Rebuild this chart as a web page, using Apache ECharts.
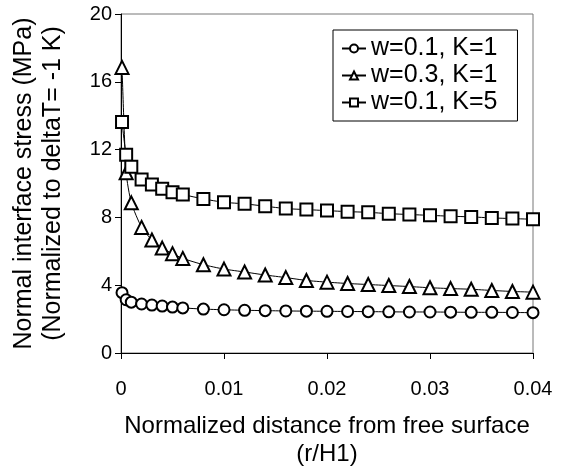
<!DOCTYPE html>
<html>
<head>
<meta charset="utf-8">
<script src="https://cdn.jsdelivr.net/npm/echarts@6/dist/echarts.min.js"></script>
<style>
html,body{margin:0;padding:0;background:#fff;}
#chart{width:568px;height:468px;}
</style>
</head>
<body>
<div id="chart"></div>
<script>
var xValues = [0.0001, 0.0005, 0.001, 0.002, 0.003, 0.004, 0.005, 0.006, 0.008, 0.010, 0.012, 0.014, 0.016, 0.018, 0.020, 0.022, 0.024, 0.026, 0.028, 0.030, 0.032, 0.034, 0.036, 0.038, 0.040];
var seriesNames = ['w=0.1, K=1', 'w=0.3, K=1', 'w=0.1, K=5'];
var circleVals = [3.56, 3.14, 3.0, 2.89, 2.83, 2.77, 2.71, 2.66, 2.59, 2.55, 2.52, 2.50, 2.48, 2.47, 2.46, 2.45, 2.44, 2.43, 2.42, 2.42, 2.41, 2.40, 2.40, 2.39, 2.38];
var triangleVals = [16.85, 10.63, 8.86, 7.41, 6.67, 6.19, 5.86, 5.58, 5.21, 4.95, 4.78, 4.60, 4.45, 4.28, 4.18, 4.10, 4.04, 3.98, 3.92, 3.85, 3.80, 3.76, 3.69, 3.63, 3.59];
var squareVals = [13.63, 11.70, 10.99, 10.24, 9.94, 9.69, 9.49, 9.35, 9.09, 8.89, 8.80, 8.66, 8.52, 8.46, 8.40, 8.34, 8.30, 8.22, 8.17, 8.12, 8.07, 8.03, 7.97, 7.93, 7.89];
var xTicks = ['0', '0.01', '0.02', '0.03', '0.04'];
var yTicks = ['0', '4', '8', '12', '16', '20'];

function pairs(vals) {
  return xValues.map(function (x, i) { return [x, vals[i]]; });
}
var FONT = 'Liberation Sans, Arial, sans-serif';
function mkSeries(name, vals, symbol, size) {
  return {
    name: name,
    type: 'line',
    data: pairs(vals),
    symbol: symbol,
    symbolSize: size,
    smooth: 0.2,
    showAllSymbol: true,
    lineStyle: { color: '#000', width: 1 },
    itemStyle: { color: '#fff', borderColor: '#000', borderWidth: 2 },
    emphasis: { disabled: true },
    z: 3
  };
}

var chart = echarts.init(document.getElementById('chart'), null, { renderer: 'canvas' });
chart.setOption({
  animation: false,
  backgroundColor: '#fff',
  grid: { left: 121, right: 35, top: 14, bottom: 115, containLabel: false, outerBoundsMode: 'none',
    show: true, borderColor: '#777', borderWidth: 1, backgroundColor: 'transparent' },
  legend: {
    show: true,
    left: 333, top: 30,
    orient: 'vertical',
    data: seriesNames,
    backgroundColor: '#fff',
    borderColor: '#000',
    borderWidth: 1,
    padding: [6, 20, 6, 8],
    itemWidth: 24,
    itemHeight: 10,
    itemGap: 2,
    textStyle: { fontFamily: FONT, fontSize: 25, color: '#000', lineHeight: 24 }
  },
  xAxis: {
    type: 'value',
    min: 0, max: 0.04, interval: 0.01,
    name: 'Normalized distance from free surface\n(r/H1)',
    nameLocation: 'middle',
    nameGap: 59,
    nameTextStyle: { fontFamily: FONT, fontSize: 24, color: '#000', lineHeight: 28, verticalAlign: 'top' },
    axisLine: { show: true, onZero: false, lineStyle: { color: '#000', width: 1 } },
    axisTick: { show: true, inside: false, length: 6, lineStyle: { color: '#000' } },
    axisLabel: { fontFamily: FONT, fontSize: 20, color: '#000', margin: 26,
      formatter: function (v) { var i = Math.round(v / 0.01); return xTicks[i] !== undefined ? xTicks[i] : ''; } },
    splitLine: { show: false }
  },
  yAxis: {
    type: 'value',
    min: 0, max: 20, interval: 4,
    name: 'Normal interface stress (MPa)\n(Normalized to deltaT= -1 K)',
    nameLocation: 'middle',
    nameGap: 53,
    nameRotate: 90,
    nameTextStyle: { fontFamily: FONT, fontSize: 25, color: '#000', lineHeight: 29 },
    axisLine: { show: true, onZero: false, lineStyle: { color: '#000', width: 1 } },
    axisTick: { show: true, inside: false, length: 6, lineStyle: { color: '#000' } },
    axisLabel: { fontFamily: FONT, fontSize: 20, color: '#000', margin: 9,
      formatter: function (v) { var i = Math.round(v / 4); return yTicks[i] !== undefined ? yTicks[i] : ''; } },
    splitLine: { show: false }
  },
  series: [
    mkSeries(seriesNames[0], circleVals, 'circle', 11),
    mkSeries(seriesNames[1], triangleVals, 'triangle', 13),
    mkSeries(seriesNames[2], squareVals, 'rect', 12)
  ]
});
</script>
</body>
</html>
